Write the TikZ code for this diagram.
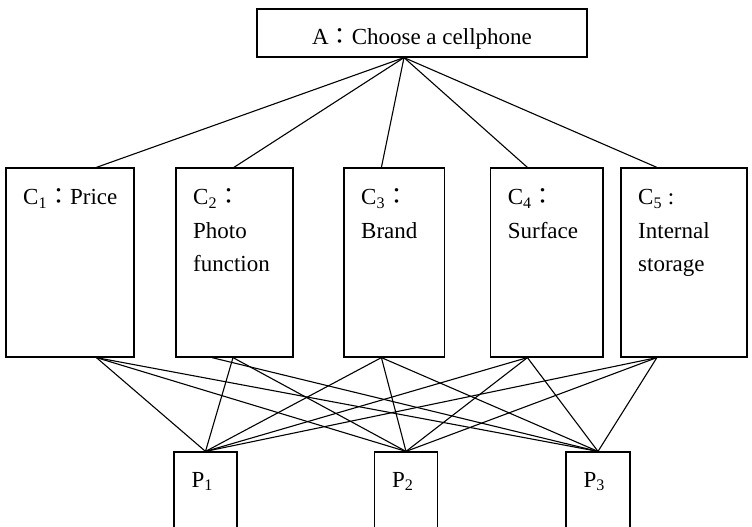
\documentclass[tikz,border=0pt]{standalone}
\usepackage{fontspec}
\setmainfont{Liberation Serif}
\newfontfamily\cjkfont{Noto Sans CJK TC}
\newcommand{\fcol}{{\cjkfont ：}}
\begin{document}
\begin{tikzpicture}[x=1pt,y=-1pt,
  boxline/.style={draw, line width=1.2pt, inner sep=0pt},
  cbox/.style={boxline, minimum height=189pt},
  pbox/.style={boxline, minimum height=100pt},
  txt/.style={anchor=base west, inner sep=0pt, font=\fontsize{23}{33}\selectfont},
  link/.style={line width=1.1pt}]
\useasboundingbox (0,0) rectangle (752,527);

% top box
\node[boxline, minimum width=330pt, minimum height=48pt] (A) at (422,33) {};
\node[txt, anchor=base] (At) at (422,45) {A\fcol Choose a cellphone};
\coordinate (Ap) at ([xshift=-18pt]A.south);

% criteria boxes
\node[cbox, minimum width=128pt] (C1) at (70,262.5) {};
\node[cbox, minimum width=117pt] (C2) at (234.5,262.5) {};
\node[cbox, minimum width=100.6pt] (C3) at (394.3,262.5) {};
\node[cbox, minimum width=112.4pt] (C4) at (546.8,262.5) {};
\node[cbox, minimum width=126pt] (C5) at (684,262.5) {};

\node[txt] (t1a) at (23,204.5) {C\textsubscript{1}\fcol Price};
\node[txt] (t2a) at (193,204.5) {C\textsubscript{2}\fcol};
\node[txt] (t2b) at (193,238) {Photo};
\node[txt] (t2c) at (193,271.5) {function};
\node[txt] (t3a) at (361,204.5) {C\textsubscript{3}\fcol};
\node[txt] (t3b) at (361,238) {Brand};
\node[txt] (t4a) at (507.6,204.5) {C\textsubscript{4}\fcol};
\node[txt] (t4b) at (507.6,238) {Surface};
\node[txt] (t5a) at (638,204.5) {C\textsubscript{5} :};
\node[txt] (t5b) at (638,238) {Internal};
\node[txt] (t5c) at (638,271.5) {storage};

% alternative boxes
\node[pbox, minimum width=63pt] (P1) at (205.5,502) {};
\node[pbox, minimum width=63.5pt] (P2) at (406,502) {};
\node[pbox, minimum width=64pt] (P3) at (598,502) {};
\node[txt] (tp1) at (191.5,487) {P\textsubscript{1}};
\node[txt] (tp2) at (392,487) {P\textsubscript{2}};
\node[txt] (tp3) at (583.5,487) {P\textsubscript{3}};

% attachment points
\coordinate (c1t) at ([xshift=91pt]C1.north west);
\coordinate (c2t) at ([xshift=58.5pt]C2.north west);
\coordinate (c3t) at ([xshift=38pt]C3.north west);
\coordinate (c4t) at ([xshift=37.4pt]C4.north west);
\coordinate (c5t) at ([xshift=36.5pt]C5.north west);
\coordinate (c1b) at ([xshift=91pt]C1.south west);
\coordinate (c2b) at ([xshift=57.6pt]C2.south west);
\coordinate (c2bb) at ([xshift=36.5pt]C2.south west);
\coordinate (c3b) at ([xshift=38pt]C3.south west);
\coordinate (c4b) at ([xshift=37.4pt]C4.south west);
\coordinate (c5b) at ([xshift=36.5pt]C5.south west);

% goal to criteria
\foreach \c in {c1t,c2t,c3t,c4t,c5t} \draw[link] (Ap) -- (\c);

% criteria to alternatives
\foreach \c in {c1b,c3b,c4b,c5b} {
  \draw[link] (\c) -- (P1.north);
  \draw[link] (\c) -- (P2.north);
  \draw[link] (\c) -- (P3.north);
}
\draw[link] (c2b) -- (P1.north);
\draw[link] (c2b) -- (P2.north);
\draw[link] (c2bb) -- (P3.north);
\end{tikzpicture}
\end{document}
